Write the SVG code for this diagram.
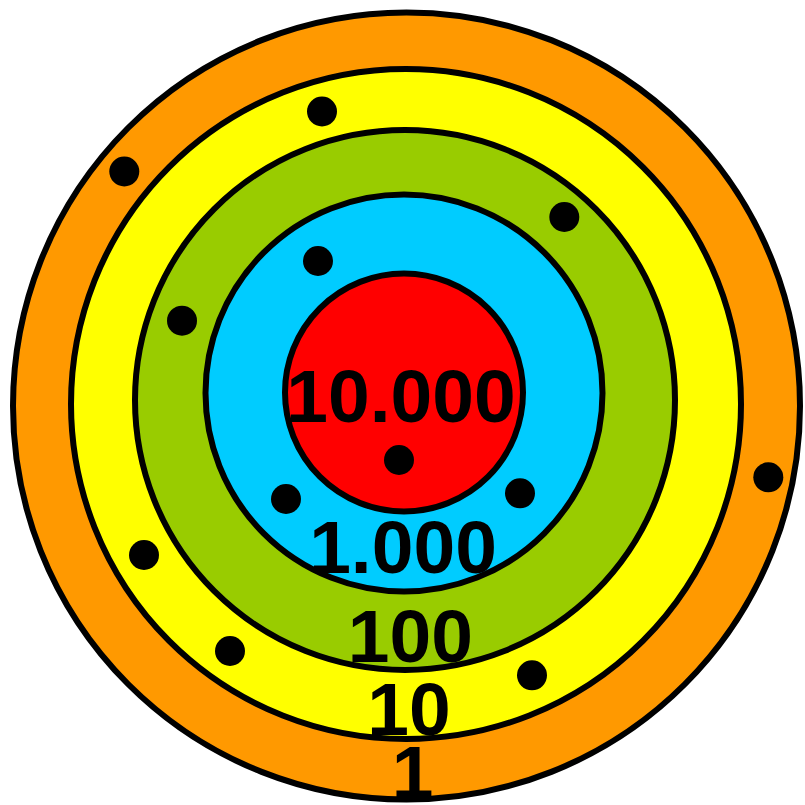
<svg xmlns="http://www.w3.org/2000/svg" width="805" height="805" viewBox="0 0 805 805">
  <style>
    .ring { stroke: #000; stroke-width: 6; }
    .lbl { font-family: "Liberation Sans", Arial, sans-serif; font-weight: bold; font-size: 75px; fill: #000; text-anchor: middle; }
    .dot { fill: #000; }
  </style>
  <rect width="805" height="805" fill="#fff"/>
  <g id="ring-1">
    <circle class="ring" cx="406.5" cy="406" r="393.5" fill="#FF9900"/>
  </g>
  <g id="ring-10">
    <circle class="ring" cx="406" cy="404" r="335" fill="#FFFF00"/>
  </g>
  <g id="ring-100">
    <circle class="ring" cx="405" cy="400" r="270" fill="#99CC00"/>
  </g>
  <g id="ring-1000">
    <circle class="ring" cx="404" cy="393" r="198.5" fill="#00CCFF"/>
  </g>
  <g id="ring-10000">
    <circle class="ring" cx="404" cy="392.5" r="119" fill="#FF0000"/>
  </g>
  <g id="labels">
    <text class="lbl" x="401" y="422">10.000</text>
    <text class="lbl" x="403" y="573">1.000</text>
    <text class="lbl" x="410.3" y="662">100</text>
    <text class="lbl" x="409" y="735">10</text>
    <text class="lbl" x="412.6" y="798">1</text>
  </g>
  <g id="dots">
    <circle class="dot" cx="322" cy="111.5" r="15"/>
    <circle class="dot" cx="124.3" cy="171.5" r="15"/>
    <circle class="dot" cx="564.3" cy="217" r="15"/>
    <circle class="dot" cx="318" cy="261" r="15"/>
    <circle class="dot" cx="182" cy="320.7" r="15"/>
    <circle class="dot" cx="399" cy="460" r="15"/>
    <circle class="dot" cx="286" cy="499" r="15"/>
    <circle class="dot" cx="520" cy="493.3" r="15"/>
    <circle class="dot" cx="768.3" cy="477.3" r="15"/>
    <circle class="dot" cx="144" cy="555" r="15"/>
    <circle class="dot" cx="230" cy="651" r="15"/>
    <circle class="dot" cx="532" cy="675.3" r="15"/>
  </g>
</svg>
